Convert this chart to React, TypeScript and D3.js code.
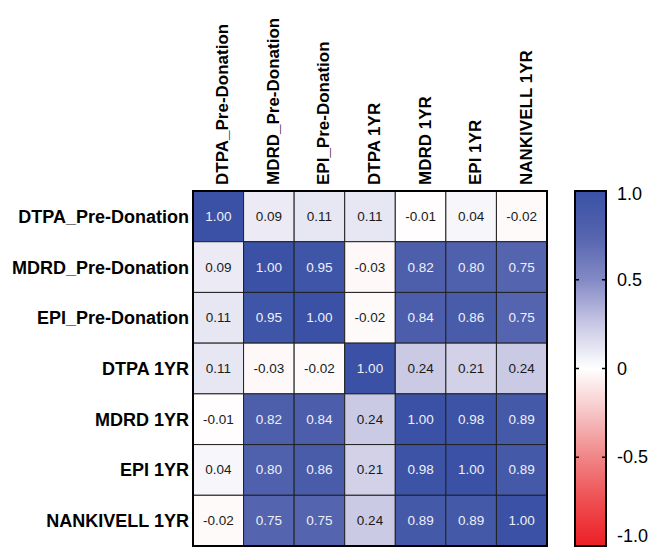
import React from "react";
import * as d3 from "d3";

const labels = [
  "DTPA_Pre-Donation",
  "MDRD_Pre-Donation",
  "EPI_Pre-Donation",
  "DTPA 1YR",
  "MDRD 1YR",
  "EPI 1YR",
  "NANKIVELL 1YR",
];

const row0 = [1.0, 0.09, 0.11, 0.11, -0.01, 0.04, -0.02];
const row1 = [0.09, 1.0, 0.95, -0.03, 0.82, 0.8, 0.75];
const row2 = [0.11, 0.95, 1.0, -0.02, 0.84, 0.86, 0.75];
const row3 = [0.11, -0.03, -0.02, 1.0, 0.24, 0.21, 0.24];
const row4 = [-0.01, 0.82, 0.84, 0.24, 1.0, 0.98, 0.89];
const row5 = [0.04, 0.8, 0.86, 0.21, 0.98, 1.0, 0.89];
const row6 = [-0.02, 0.75, 0.75, 0.24, 0.89, 0.89, 1.0];
const matrix = [row0, row1, row2, row3, row4, row5, row6];

const legendTicks = [1.0, 0.5, 0, -0.5, -1.0];
const legendTickLabels = ["1.0", "0.5", "0", "-0.5", "-1.0"];

const colorDomain = [-1, -0.75, -0.5, -0.25, 0, 0.25, 0.5, 0.75, 1];
const colorRange = [
  "#ec1f25",
  "#ee4d50",
  "#f18587",
  "#f6c4c5",
  "#ffffff",
  "#c9c8e4",
  "#8389c5",
  "#5464ae",
  "#3a51a5",
];

const FONT = "Arial, 'Liberation Sans', Helvetica, sans-serif";

export default function App() {
  const gx0 = 193, gx1 = 547, gy0 = 191, gy1 = 546;
  const x = d3.scaleBand<string>().domain(labels).range([gx0, gx1]);
  const y = d3.scaleBand<string>().domain(labels).range([gy0, gy1]);
  const color = d3.scaleLinear<string>().domain(colorDomain).range(colorRange).clamp(true);

  const cbX0 = 575, cbX1 = 606;
  const cy = d3.scaleLinear().domain([1, -1]).range([gy0, gy1]);
  const stops = d3.range(0, 41).map((i) => 1 - i / 20);

  const cells: any[] = [];
  matrix.forEach((row, ri) => {
    row.forEach((v, ci) => {
      const cx = x(labels[ci])!;
      const ry = y(labels[ri])!;
      cells.push(
        <g key={`${ri}-${ci}`}>
          <rect
            x={cx}
            y={ry}
            width={x.bandwidth()}
            height={y.bandwidth()}
            fill={color(v)}
            stroke="#222"
            strokeWidth={1}
          />
          <text
            x={cx + x.bandwidth() / 2}
            y={ry + y.bandwidth() / 2}
            textAnchor="middle"
            dominantBaseline="central"
            fontSize={13.5}
            fontFamily={FONT}
            fill={v > 0.5 ? "#eef0f8" : "#1a1a1a"}
          >
            {v.toFixed(2)}
          </text>
        </g>
      );
    });
  });

  return (
    <svg
      width={650}
      height={550}
      style={{ position: "absolute", left: 0, top: 0, background: "#fff" }}
    >
      <defs>
        <linearGradient id="cbgrad" x1="0" y1="0" x2="0" y2="1">
          {stops.map((s, i) => (
            <stop key={i} offset={`${(i / 40) * 100}%`} stopColor={color(s)} />
          ))}
        </linearGradient>
      </defs>

      {cells}
      <rect
        x={gx0}
        y={gy0}
        width={gx1 - gx0}
        height={gy1 - gy0}
        fill="none"
        stroke="#000"
        strokeWidth={2}
      />

      {labels.map((l) => (
        <text
          key={"r" + l}
          x={189}
          y={y(l)! + y.bandwidth() / 2 + 6.5}
          textAnchor="end"
          fontSize={18}
          fontWeight="bold"
          fontFamily={FONT}
          fill="#000"
        >
          {l}
        </text>
      ))}

      {labels.map((l) => (
        <text
          key={"c" + l}
          transform={`translate(${x(l)! + x.bandwidth() / 2 + 10},185) rotate(-90)`}
          textAnchor="start"
          fontSize={17}
          fontWeight="bold"
          fontFamily={FONT}
          fill="#000"
        >
          {l}
        </text>
      ))}

      <rect
        x={cbX0}
        y={gy0}
        width={cbX1 - cbX0}
        height={gy1 - gy0}
        fill="url(#cbgrad)"
        stroke="#000"
        strokeWidth={2}
      />
      {legendTicks.map((t, i) => (
        <g key={"t" + i}>
          {t !== 1 && t !== -1 && (
            <>
              <line x1={cbX0} x2={cbX0 + 4} y1={cy(t)} y2={cy(t)} stroke="#000" strokeWidth={1.5} />
              <line x1={cbX1 - 4} x2={cbX1} y1={cy(t)} y2={cy(t)} stroke="#000" strokeWidth={1.5} />
            </>
          )}
          <text
            x={617}
            y={cy(t) + (t === 1 ? 3 : t === -1 ? -10 : 0)}
            dominantBaseline="central"
            fontSize={18}
            fontFamily={FONT}
            fill="#000"
          >
            {legendTickLabels[i]}
          </text>
        </g>
      ))}
    </svg>
  );
}
